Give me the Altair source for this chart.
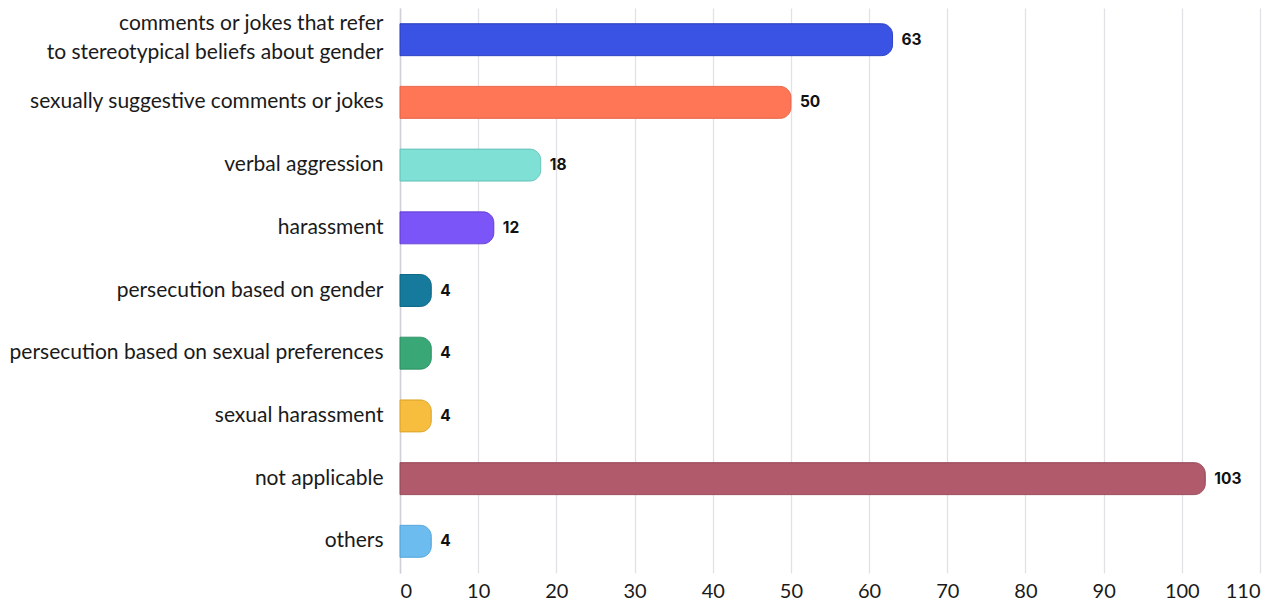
import altair as alt
import pandas as pd

categories = [
    "comments or jokes that refer to stereotypical beliefs about gender",
    "sexually suggestive comments or jokes",
    "verbal aggression",
    "harassment",
    "persecution based on gender",
    "persecution based on sexual preferences",
    "sexual harassment",
    "not applicable",
    "others",
]
values = [63, 50, 18, 12, 4, 4, 4, 103, 4]
colors = ["#3a53e4", "#ff7657", "#7fe0d6", "#7b55f7", "#157a9c",
          "#3aa876", "#f6bd3e", "#b05a6c", "#6cbcf0"]
strokes = ["#2f44c4", "#e8664a", "#6cc9bf", "#6845d8", "#0f6a88",
           "#2f9466", "#e0aa30", "#9a4c5d", "#5aa8dc"]
x_ticks = list(range(0, 111, 10))

df = pd.DataFrame({"category": categories, "value": values})

y_enc = alt.Y(
    "category:N", sort=categories, title=None,
    scale=alt.Scale(paddingInner=0.49, paddingOuter=0.25),
    axis=alt.Axis(
        labelFont="Lato", labelFontSize=21, labelColor="#1a1a1a",
        labelPadding=17, ticks=False, domain=True, domainColor="#cfd0d8",
        domainWidth=1.5, labelLimit=420, labelLineHeight=29,
        labelOffset={"condition": {"test": "indexof(datum.label, 'that refer') >= 0",
                                   "value": -16}, "value": 0},
        labelExpr="split(replace(datum.label, ' that refer ', ' that refer|'), '|')",
    ),
)

bars = alt.Chart(df).mark_bar(
    cornerRadiusTopRight=11, cornerRadiusBottomRight=11, strokeWidth=1
).encode(
    x=alt.X("value:Q", title=None,
            scale=alt.Scale(domain=[0, 110], nice=False),
            axis=alt.Axis(values=x_ticks, labelFont="Lato", labelFontSize=20,
                          labelColor="#1a1a1a", ticks=False, domain=False,
                          labelPadding=8, grid=True, gridColor="#e2e2e6",
                          gridWidth=1.3)),
    y=y_enc,
    color=alt.Color("category:N", scale=alt.Scale(domain=categories, range=colors), legend=None),
    stroke=alt.Stroke("category:N", scale=alt.Scale(domain=categories, range=strokes), legend=None),
)

text = alt.Chart(df).mark_text(
    align="left", baseline="middle", dx=9, font="Inter", fontWeight="bold",
    fontSize=15.5, color="#111111"
).encode(
    x="value:Q",
    y=alt.Y("category:N", sort=categories),
    text="value:Q",
)

chart = (bars + text).properties(
    width=860, height=565,
    autosize=alt.AutoSizeParams(type="none"),
    padding={"left": 392, "top": 0, "right": 12, "bottom": 27},
).configure_view(stroke=None).configure_axisY(grid=False)

chart.save("out.html", embed_options={"renderer": "svg", "actions": False})
